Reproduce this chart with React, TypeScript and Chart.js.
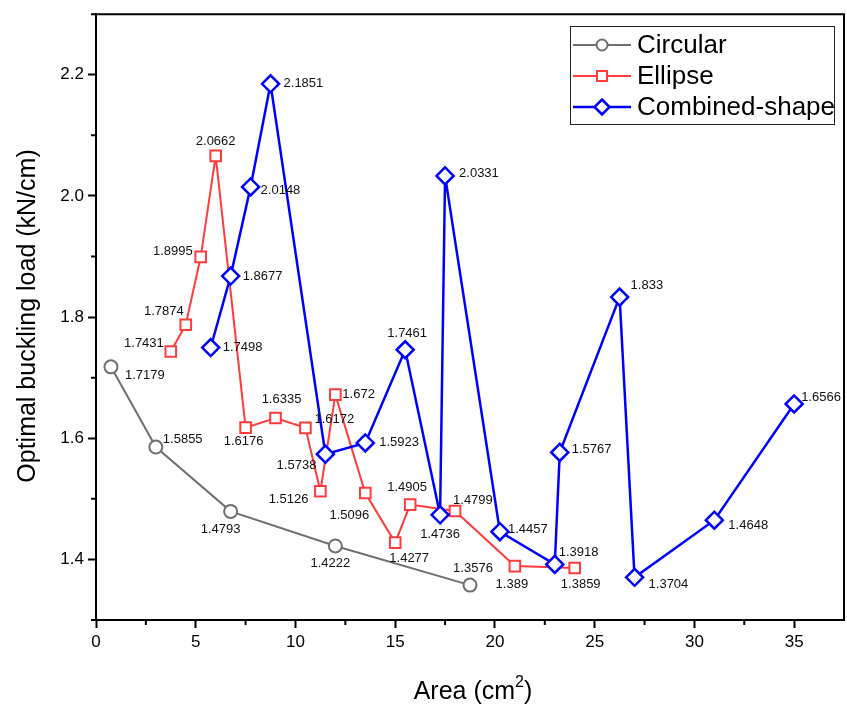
import React, { useEffect, useRef } from "react";
import { Chart, registerables } from "chart.js";

Chart.register(...registerables);

// Area (cm²) and optimal buckling load (kN/cm) for each cross-section family
const CIRCULAR_AREA = [0.75, 3, 6.75, 12, 18.75];
const CIRCULAR_LOAD = [1.7179, 1.5855, 1.4793, 1.4222, 1.3576];

const ELLIPSE_AREA = [3.75, 4.5, 5.25, 6, 7.5, 9, 10.5, 11.25, 12, 13.5, 15, 15.75, 18, 21, 24];
const ELLIPSE_LOAD = [1.7431, 1.7874, 1.8995, 2.0662, 1.6176, 1.6335, 1.6172, 1.5126, 1.672, 1.5096, 1.4277, 1.4905, 1.4799, 1.389, 1.3859];

const COMBINED_AREA = [5.75, 6.75, 7.75, 8.75, 11.5, 13.5, 15.5, 17.25, 17.5, 20.25, 23, 23.25, 26.25, 27, 31, 35];
const COMBINED_LOAD = [1.7498, 1.8677, 2.0148, 2.1851, 1.5738, 1.5923, 1.7461, 1.4736, 2.0331, 1.4457, 1.3918, 1.5767, 1.833, 1.3704, 1.4648, 1.6566];

const SERIES_NAMES = ["Circular", "Ellipse", "Combined-shape"];

const X_TICKS = [0, 5, 10, 15, 20, 25, 30, 35];
const Y_TICKS = [1.4, 1.6, 1.8, 2.0, 2.2];
const X_MINOR = [2.5, 7.5, 12.5, 17.5, 22.5, 27.5, 32.5];
const Y_MINOR = [1.3, 1.5, 1.7, 1.9, 2.1, 2.3];

// Value-label placement next to each marker: [anchor, dx, dy]
type Place = [string, number, number];
const CIRCULAR_PLACE: Place[] = [
  ["l", 14, 9], ["l", 7, -8], ["c", -10, 18], ["c", -5, 17], ["c", 3, -17],
];
const ELLIPSE_PLACE: Place[] = [
  ["r", -7, -8], ["r", -2, -13], ["r", -8, -5], ["c", 0, -14], ["c", -2, 14],
  ["c", 6, -19], ["l", 9, -8], ["r", -12, 8], ["l", 7, 0], ["c", -16, 22],
  ["c", 14, 16], ["c", -3, -17], ["l", -2, -11], ["c", -3, 18], ["c", 6, 16],
];
const COMBINED_PLACE: Place[] = [
  ["l", 12, 0], ["l", 12, 0], ["l", 10, 3], ["l", 13, 0], ["r", -9, 11],
  ["l", 14, -1], ["c", 2, -16], ["c", 0, 20], ["l", 14, -2], ["l", 8, -2],
  ["l", 4, -12], ["l", 12, -3], ["l", 11, -12], ["l", 14, 7], ["l", 14, 5],
  ["l", 7, -7],
];

const FONT = '"Liberation Sans", Arial, sans-serif';
const GRAY = "#707070";
const RED = "#ff3b3b";
const BLUE = "#0000ff";

const toPoints = (xs: number[], ys: number[]) => xs.map((x, i) => ({ x, y: ys[i] }));

function drawMarker(ctx: CanvasRenderingContext2D, style: string, x: number, y: number, color: string, lw: number) {
  ctx.save();
  ctx.strokeStyle = color;
  ctx.fillStyle = "#fff";
  ctx.lineWidth = lw;
  ctx.beginPath();
  if (style === "circle") {
    ctx.arc(x, y, 5.5, 0, Math.PI * 2);
  } else if (style === "rect") {
    ctx.rect(x - 5, y - 5, 10, 10);
  } else {
    ctx.moveTo(x, y - 7.5);
    ctx.lineTo(x + 7.5, y);
    ctx.lineTo(x, y + 7.5);
    ctx.lineTo(x - 7.5, y);
    ctx.closePath();
  }
  ctx.fill();
  ctx.stroke();
  ctx.restore();
}

const decorPlugin = {
  id: "decor",
  afterDraw(chart: any) {
    const { ctx, chartArea, scales } = chart;
    const xs = scales.x;
    const ys = scales.y;
    ctx.save();

    // frame top/right edges
    ctx.strokeStyle = "#000";
    ctx.lineWidth = 2;
    ctx.beginPath();
    ctx.moveTo(chartArea.left, chartArea.top);
    ctx.lineTo(chartArea.right, chartArea.top);
    ctx.lineTo(chartArea.right, chartArea.bottom);
    ctx.stroke();

    // minor ticks
    ctx.beginPath();
    X_MINOR.forEach((v) => {
      const px = xs.getPixelForValue(v);
      ctx.moveTo(px, chartArea.bottom);
      ctx.lineTo(px, chartArea.bottom + 5);
    });
    Y_MINOR.forEach((v) => {
      const py = ys.getPixelForValue(v);
      ctx.moveTo(chartArea.left, py);
      ctx.lineTo(chartArea.left - 5, py);
    });
    ctx.stroke();

    // value labels
    const places = [CIRCULAR_PLACE, ELLIPSE_PLACE, COMBINED_PLACE];
    ctx.fillStyle = "#111";
    ctx.font = `13px ${FONT}`;
    ctx.textBaseline = "middle";
    chart.data.datasets.forEach((ds: any, di: number) => {
      const meta = chart.getDatasetMeta(di);
      meta.data.forEach((el: any, i: number) => {
        const [anchor, dx, dy] = places[di][i];
        ctx.textAlign = anchor === "l" ? "left" : anchor === "r" ? "right" : "center";
        ctx.fillText(String(ds.data[i].y), el.x + dx, el.y + dy);
      });
    });

    // axis titles
    ctx.fillStyle = "#000";
    ctx.textBaseline = "middle";
    ctx.font = `25px ${FONT}`;
    const main = "Area (cm";
    const tail = ")";
    const supFont = `16px ${FONT}`;
    const wMain = ctx.measureText(main).width;
    const wTail = ctx.measureText(tail).width;
    ctx.font = supFont;
    const wSup = ctx.measureText("2").width;
    const total = wMain + wSup + wTail;
    let tx = 473 - total / 2;
    const ty = 692;
    ctx.textAlign = "left";
    ctx.font = `25px ${FONT}`;
    ctx.fillText(main, tx, ty);
    tx += wMain;
    ctx.font = supFont;
    ctx.fillText("2", tx, ty - 9);
    tx += wSup;
    ctx.font = `25px ${FONT}`;
    ctx.fillText(tail, tx, ty);

    ctx.save();
    ctx.translate(28, 316);
    ctx.rotate(-Math.PI / 2);
    ctx.textAlign = "center";
    ctx.font = `25px ${FONT}`;
    ctx.fillText("Optimal buckling load (kN/cm)", 0, 0);
    ctx.restore();

    // legend box
    const bx = 570, by = 26, bw = 264, bh = 98;
    ctx.fillStyle = "#fff";
    ctx.fillRect(bx, by, bw, bh);
    ctx.strokeStyle = "#222";
    ctx.lineWidth = 1;
    ctx.strokeRect(bx + 0.5, by + 0.5, bw, bh);
    const rows = [45, 76, 107];
    const colors = [GRAY, RED, BLUE];
    const styles = ["circle", "rect", "rectRot"];
    const widths = [2, 2, 2.5];
    rows.forEach((ry, i) => {
      ctx.strokeStyle = colors[i];
      ctx.lineWidth = widths[i];
      ctx.beginPath();
      ctx.moveTo(573, ry);
      ctx.lineTo(631, ry);
      ctx.stroke();
      drawMarker(ctx, styles[i], 602, ry, colors[i], widths[i]);
      ctx.fillStyle = "#000";
      ctx.font = `26px ${FONT}`;
      ctx.textAlign = "left";
      ctx.textBaseline = "middle";
      ctx.fillText(SERIES_NAMES[i], 637, ry + 1);
    });

    ctx.restore();
  },
};

export default function App() {
  const canvasRef = useRef<HTMLCanvasElement | null>(null);

  useEffect(() => {
    const canvas = canvasRef.current;
    if (!canvas) return;
    const chart = new Chart(canvas, {
      type: "line",
      data: {
        datasets: [
          {
            label: SERIES_NAMES[0],
            data: toPoints(CIRCULAR_AREA, CIRCULAR_LOAD),
            borderColor: GRAY,
            borderWidth: 2,
            pointStyle: "circle",
            pointRadius: 6.5,
            pointBorderWidth: 2,
            pointBackgroundColor: "#fff",
            pointBorderColor: GRAY,
            order: 3,
          },
          {
            label: SERIES_NAMES[1],
            data: toPoints(ELLIPSE_AREA, ELLIPSE_LOAD),
            borderColor: RED,
            borderWidth: 2,
            pointStyle: "rect",
            pointRadius: 7.5,
            pointBorderWidth: 2,
            pointBackgroundColor: "#fff",
            pointBorderColor: RED,
            order: 2,
          },
          {
            label: SERIES_NAMES[2],
            data: toPoints(COMBINED_AREA, COMBINED_LOAD),
            borderColor: BLUE,
            borderWidth: 2.5,
            pointStyle: "rectRot",
            pointRadius: 8.5,
            pointBorderWidth: 2.5,
            pointBackgroundColor: "#fff",
            pointBorderColor: BLUE,
            order: 1,
          },
        ],
      },
      options: {
        responsive: false,
        maintainAspectRatio: false,
        devicePixelRatio: 1,
        animation: false,
        layout: { padding: { top: 13, right: 4, left: 0, bottom: 0 } },
        plugins: { legend: { display: false }, tooltip: { enabled: false } },
        elements: { line: { tension: 0 } },
        scales: {
          x: {
            type: "linear",
            min: 0,
            max: 37.5,
            afterBuildTicks: (s: any) => {
              s.ticks = X_TICKS.map((v) => ({ value: v }));
            },
            afterFit: (s: any) => {
              s.height = 84;
            },
            ticks: {
              autoSkip: false,
              maxRotation: 0,
              padding: 4,
              color: "#000",
              font: { family: FONT, size: 17 },
              callback: (v: any) => String(v),
            },
            grid: { drawOnChartArea: false, drawTicks: true, tickLength: 8, tickWidth: 2, tickColor: "#000" },
            border: { color: "#000", width: 2 },
          },
          y: {
            type: "linear",
            min: 1.3,
            max: 2.3,
            afterBuildTicks: (s: any) => {
              s.ticks = Y_TICKS.map((v) => ({ value: v }));
            },
            afterFit: (s: any) => {
              s.width = 96;
            },
            ticks: {
              padding: 4,
              color: "#000",
              font: { family: FONT, size: 17 },
              callback: (v: any) => Number(v).toFixed(1),
            },
            grid: { drawOnChartArea: false, drawTicks: true, tickLength: 8, tickWidth: 2, tickColor: "#000" },
            border: { color: "#000", width: 2 },
          },
        },
      },
      plugins: [decorPlugin],
    });
    return () => chart.destroy();
  }, []);

  return (
    <div
      style={{
        position: "fixed",
        left: 0,
        top: 0,
        width: 847,
        height: 704,
        overflow: "hidden",
        background: "#fff",
      }}
    >
      <canvas ref={canvasRef} width={855} height={704} style={{ display: "block" }} />
    </div>
  );
}
